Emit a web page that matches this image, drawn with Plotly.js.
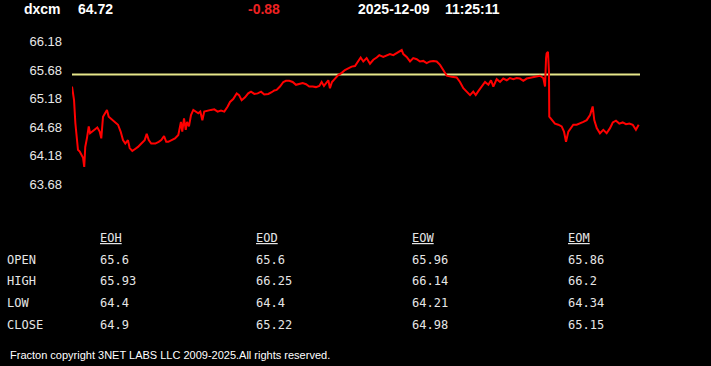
<!DOCTYPE html>
<html>
<head>
<meta charset="utf-8">
<script src="https://cdn.plot.ly/plotly-3.0.1.min.js"></script>
<style>
html,body{margin:0;padding:0;background:#000;}
#chart{width:711px;height:366px;}
</style>
</head>
<body>
<div id="chart"></div>
<script>
// ---- data ----
const symbol = 'dxcm';
const lastPrice = '64.72';
const change = '-0.88';
const dateStr = '2025-12-09';
const timeStr = '11:25:11';
const prevClose = 65.6;

const yTicks = [63.68, 64.18, 64.68, 65.18, 65.68, 66.18];

// minutes since session open
const minutes = [0,0.7,1.4,2.3,3.4,4.1,5.3,6.4,7.6,8.4,9.1,10.3,11.5,12.4,13.7,15.6,17.4,19.0,20.1,21.3,
22.9,24.0,25.2,27.0,29.3,31.6,33.4,35.0,36.6,38.4,39.6,41.4,43.1,45.3,47.6,49.9,51.3,52.7,54.4,57.2,
59.5,61.3,63.2,64.7,66.1,68.5,70.7,73.0,74.8,75.7,76.9,78.1,79.0,80.3,81.7,83.3,84.9,86.7,88.1,89.5,
90.8,93.2,95.4,97.7,100.0,102.3,104.6,106.9,108.5,110.7,113.1,114.7,116.5,118.8,121.0,122.9,125.2,127.5,129.8,132.0,
134.8,137.1,138.9,140.5,142.8,145.1,146.9,149.2,151.5,153.8,156.1,158.4,160.7,162.9,165.3,167.5,169.8,171.4,173.0,174.9,
176.0,177.1,178.5,180.6,182.8,185.2,187.4,189.7,192.0,194.3,196.6,198.2,200.0,202.3,204.6,206.9,209.2,211.0,213.7,216.1,
218.3,220.6,222.9,225.2,226.4,227.5,229.8,232.1,234.3,236.7,238.9,241.2,243.5,245.8,248.1,250.4,252.7,254.9,257.3,260.7,
264.1,266.4,268.7,271.0,273.3,275.5,277.2,279.0,281.3,283.6,285.9,287.7,289.3,291.6,293.9,296.1,298.5,300.7,303.0,305.3,
307.6,309.9,312.2,314.5,316.8,319.1,321.3,323.6,324.8,325.5,325.9,326.8,327.5,327.7,329.4,331.6,333.9,336.2,337.8,339.2,
340.8,342.4,344.2,346.5,348.8,351.1,353.4,355.7,357.5,358.6,360.3,362.5,364.8,367.1,369.4,371.3,373.5,375.8,378.1,380.4,
382.7,385.0,387.2,389.1];

const prices = [65.39,65.29,65.15,64.75,64.42,64.28,64.25,64.19,64.14,63.98,64.33,64.49,64.69,64.57,64.60,64.63,64.67,64.60,64.48,64.86,
64.92,64.98,64.86,64.82,64.77,64.72,64.60,64.45,64.39,64.45,64.31,64.26,64.29,64.33,64.39,64.45,64.56,64.45,64.39,64.39,
64.42,64.45,64.52,64.42,64.42,64.45,64.48,64.54,64.77,64.60,64.83,64.63,64.77,64.69,64.89,64.98,64.95,64.92,64.95,64.80,
64.95,64.97,64.98,64.99,64.95,64.97,64.95,65.04,65.12,65.17,65.27,65.24,65.15,65.20,65.27,65.30,65.26,65.27,65.30,65.25,
65.26,65.29,65.32,65.33,65.39,65.47,65.49,65.49,65.47,65.42,65.43,65.45,65.43,65.39,65.39,65.38,65.40,65.47,65.40,65.47,
65.50,65.36,65.47,65.53,65.59,65.63,65.68,65.71,65.74,65.75,65.84,65.90,65.83,65.89,65.79,65.86,65.90,65.94,65.91,65.94,
65.96,65.94,65.97,66.00,66.03,65.96,65.91,65.83,65.89,65.87,65.83,65.84,65.80,65.83,65.84,65.83,65.77,65.68,65.58,65.56,
65.55,65.47,65.36,65.30,65.24,65.30,65.24,65.31,65.39,65.47,65.42,65.50,65.39,65.52,65.47,65.53,65.50,65.54,65.52,65.54,
65.53,65.49,65.53,65.54,65.56,65.56,65.58,65.54,65.39,65.89,65.97,66.00,65.65,64.86,64.80,64.74,64.72,64.69,64.60,64.42,
64.60,64.66,64.72,64.72,64.74,64.77,64.80,64.89,65.04,64.80,64.66,64.57,64.63,64.57,64.66,64.76,64.79,64.74,64.76,64.73,
64.74,64.72,64.63,64.72];

const tableCols = ['EOH', 'EOD', 'EOW', 'EOM'];
const rowLabels = ['OPEN', 'HIGH', 'LOW', 'CLOSE'];
const openVals  = [65.6, 65.6, 65.96, 65.86];
const highVals  = [65.93, 66.25, 66.14, 66.2];
const lowVals   = [64.4, 64.4, 64.21, 64.34];
const closeVals = [64.9, 65.22, 64.98, 65.15];
const copyright = 'Fracton copyright 3NET LABS LLC 2009-2025.All rights reserved.';

// ---- layout helpers ----
const W = 711, H = 366;
const M = {l: 72, r: 71, t: 30, b: 166};
const PW = W - M.l - M.r, PH = H - M.t - M.b;
const px = x => (x - M.l) / PW;
const py = y => (H - M.b - y) / PH;

const sans = 'Liberation Sans, Arial, sans-serif';
const mono = 'DejaVu Sans Mono, monospace';

const ann = [];
function text(t, x, y, opts) {
  ann.push(Object.assign({
    xref: 'paper', yref: 'paper', x: px(x), y: py(y), text: t,
    showarrow: false, xanchor: 'left', yanchor: 'middle',
    font: {family: sans, size: 14, color: '#ffffff'}
  }, opts || {}));
}
// header
text('<b>' + symbol + '</b>', 22, 9);
text('<b>' + lastPrice + '</b>', 76, 9);
text('<b>' + change + '</b>', 246, 9, {font: {family: sans, size: 14, color: '#ee2222'}});
text('<b>' + dateStr + '</b>', 356, 9);
text('<b>' + timeStr + '</b>', 443, 9);

// table
const colX = [98, 254, 410, 566];
const rowY = [259.5, 281, 302.5, 324.5];
const tfont = {family: mono, size: 12, color: '#e6e6e6'};
tableCols.forEach((c, i) => text('<u>' + c + '</u>', colX[i], 238, {font: tfont}));
const rows = [openVals, highVals, lowVals, closeVals];
rowLabels.forEach((r, j) => {
  text(r, 5, rowY[j], {font: tfont});
  rows[j].forEach((v, i) => text(String(v), colX[i], rowY[j], {font: tfont}));
});
text(copyright, 8, 355, {font: {family: sans, size: 11, color: '#ffffff'}});

const traces = [
  {x: [0, 390], y: [prevClose, prevClose], mode: 'lines', line: {color: '#e6e68a', width: 2}, hoverinfo: 'skip'},
  {x: minutes, y: prices, mode: 'lines', line: {color: '#ff0000', width: 2}, hoverinfo: 'skip'}
];

const layout = {
  width: W, height: H, margin: M,
  paper_bgcolor: '#000', plot_bgcolor: '#000',
  showlegend: false,
  xaxis: {range: [0, 390], visible: false, fixedrange: true},
  yaxis: {
    range: [63.399, 66.382], tickvals: yTicks, ticktext: yTicks.map(v => v.toFixed(2)),
    showgrid: false, zeroline: false, showline: false, ticks: '',
    ticklabelstandoff: 9,
    tickfont: {family: sans, size: 13, color: '#e8e8e8'}, fixedrange: true
  },
  annotations: ann
};

Plotly.newPlot('chart', traces, layout, {staticPlot: true, displayModeBar: false});
</script>
</body>
</html>
